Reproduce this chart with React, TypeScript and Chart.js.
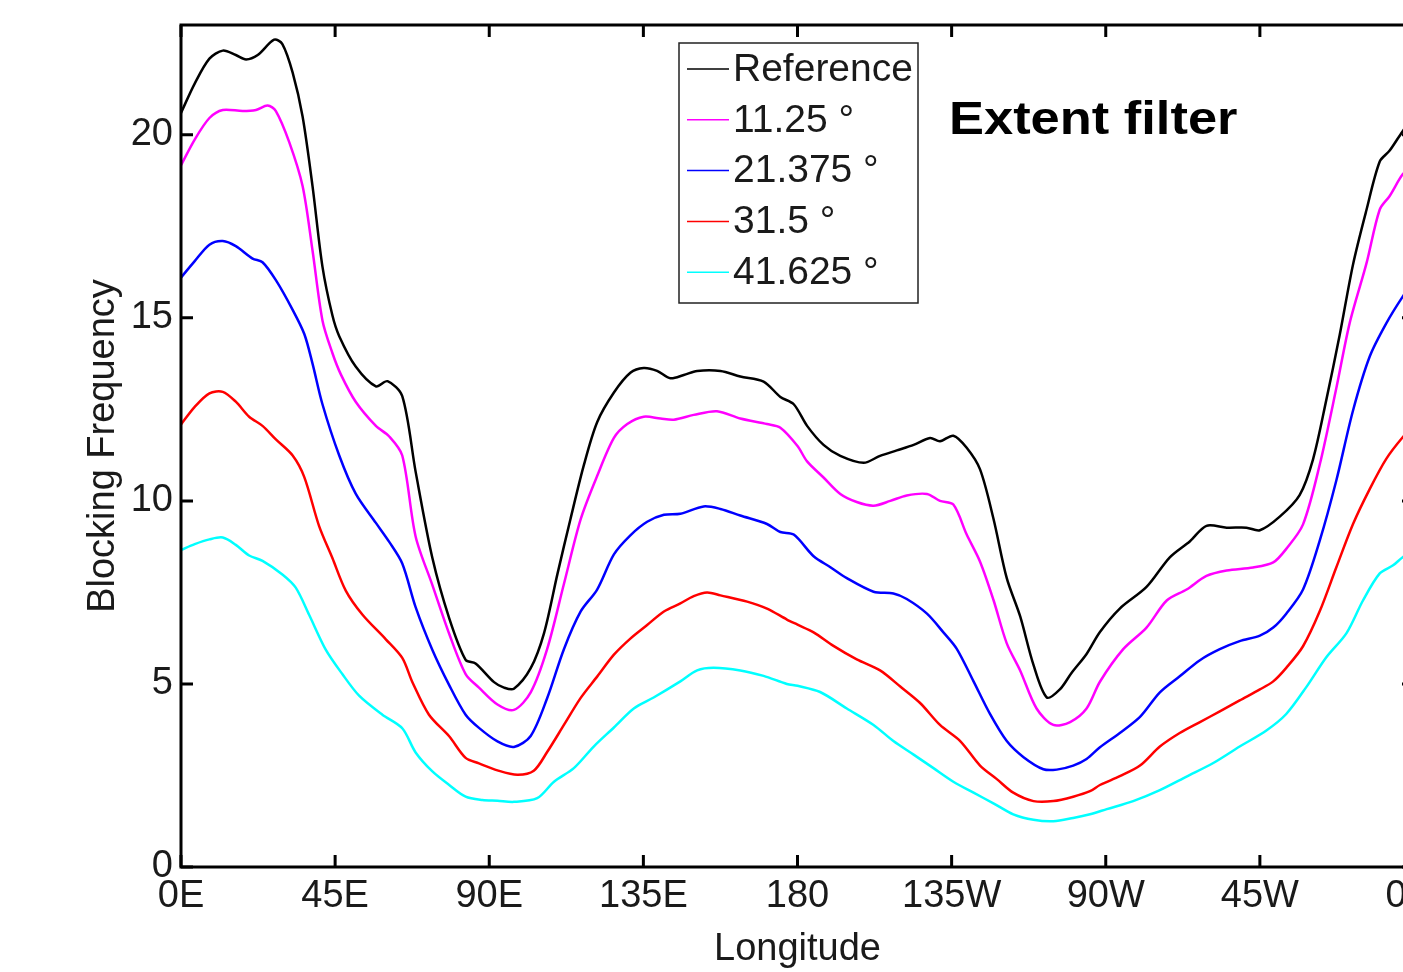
import React, { useEffect, useRef } from 'react';
import { Chart, registerables } from 'chart.js';

Chart.register(...registerables);

const FONT = '"Liberation Sans", Arial, Helvetica, sans-serif';

const xTickLabels = ['0E', '45E', '90E', '135E', '180', '135W', '90W', '45W', '0W'];
const yTickValues = [0, 5, 10, 15, 20];

const seriesNames = ['Reference', '11.25 °', '21.375 °', '31.5 °', '41.625 °'];
const seriesColors = ['#000000', '#ff00ff', '#0000ff', '#ff0000', '#00ffff'];

const refLon = [0, 4, 8.3, 12.2, 16, 19, 22.4, 27.2, 29.6, 32.6, 35.5, 38.4, 41.3, 44.2, 46.2, 51, 56.9, 60.3, 64.6, 68.5, 73.4, 78.3, 83.1, 86, 91.4, 94.3, 97.2, 102.1, 106, 109.9, 113.7, 117.6, 121.5, 126.4, 131.2, 135.1, 139, 142.9, 146.8, 150.7, 157.5, 163.3, 170.1, 175, 178.9, 182.8, 187.6, 192.5, 199.3, 204.1, 209, 213.9, 218.7, 221.6, 225.5, 229.4, 233.3, 237.2, 241.1, 245, 248.9, 252.8, 256.6, 260, 264.4, 268.3, 274.1, 281.9, 288.7, 294.6, 299.4, 305.3, 311.1, 315, 320.8, 326.6, 330.5, 334.4, 338.3, 342.2, 346.1, 350, 352.9, 356.7, 360];
const refVal = [20.6, 21.4, 22.08, 22.3, 22.18, 22.06, 22.18, 22.6, 22.48, 21.7, 20.5, 18.6, 16.4, 15.07, 14.5, 13.67, 13.13, 13.27, 12.86, 10.8, 8.44, 6.8, 5.66, 5.56, 5.05, 4.9, 4.87, 5.43, 6.39, 8.0, 9.5, 10.97, 12.15, 12.96, 13.5, 13.63, 13.55, 13.35, 13.44, 13.55, 13.55, 13.4, 13.26, 12.84, 12.64, 12.05, 11.53, 11.23, 11.04, 11.23, 11.38, 11.53, 11.72, 11.63, 11.78, 11.45, 10.86, 9.52, 7.89, 6.85, 5.52, 4.63, 4.85, 5.3, 5.82, 6.42, 7.06, 7.65, 8.46, 8.9, 9.32, 9.27, 9.27, 9.2, 9.57, 10.16, 11.13, 12.76, 14.53, 16.46, 17.94, 19.27, 19.57, 20.1, 20.5];

const magLon = [0, 4, 8.3, 12.2, 18, 21.9, 25.3, 27.7, 31.6, 35.5, 38.4, 41.3, 44.2, 46.7, 51, 56.9, 60.8, 64.6, 68.5, 73.4, 78.3, 83.1, 87, 92.4, 97.2, 102.1, 106.9, 111.8, 116.7, 121.5, 126.4, 130.3, 135.1, 140, 143.9, 149.7, 156.5, 163.3, 171.1, 175, 180, 182.8, 187.6, 192.5, 197.3, 202.2, 207.1, 211.9, 217.8, 221.6, 225.5, 229.4, 233.3, 237.2, 241.1, 245, 249.8, 254.7, 259.6, 264.4, 268.3, 275.1, 281.9, 287.8, 293.6, 299.4, 305.3, 313, 318.9, 322.7, 327.6, 332.5, 337.3, 341.2, 346.1, 350, 352.9, 356.7, 360];
const magVal = [19.17, 19.87, 20.46, 20.68, 20.65, 20.68, 20.8, 20.65, 19.8, 18.6, 16.84, 14.93, 14.04, 13.45, 12.71, 12.05, 11.76, 11.24, 9.03, 7.7, 6.37, 5.27, 4.9, 4.44, 4.29, 4.77, 5.95, 7.73, 9.5, 10.68, 11.72, 12.1, 12.3, 12.25, 12.22, 12.35, 12.45, 12.25, 12.1, 12.0, 11.5, 11.08, 10.64, 10.19, 9.97, 9.87, 10.0, 10.15, 10.19, 10.0, 9.9, 9.08, 8.34, 7.3, 6.11, 5.37, 4.33, 3.88, 3.96, 4.33, 5.06, 5.95, 6.54, 7.28, 7.58, 7.95, 8.1, 8.18, 8.32, 8.69, 9.36, 11.0, 13.07, 14.85, 16.48, 17.96, 18.33, 18.92, 19.2];

const blueLon = [0, 4, 8.3, 12.2, 16, 20.9, 23.8, 27.7, 32.6, 36, 38.4, 41.3, 46.2, 51, 56.9, 60.8, 64.6, 68.5, 73.4, 78.3, 83.1, 87, 92.4, 97.2, 102.1, 106.9, 111.8, 116.7, 121.5, 126.4, 131.2, 136.1, 141, 145.8, 152.6, 157.5, 163.3, 171.1, 175, 178.9, 184.7, 189.6, 194.4, 202.2, 208, 211.9, 217.8, 222.6, 226.5, 231.4, 236.2, 241.1, 246, 251.8, 255.7, 260.5, 264.4, 268.3, 274.1, 280, 285.8, 291.6, 297.5, 303.3, 309.1, 315, 318.9, 322.7, 327.6, 332.5, 337.3, 342.2, 347.1, 351.9, 356.7, 360];
const blueVal = [16.1, 16.55, 17.0, 17.1, 16.96, 16.62, 16.52, 16.03, 15.22, 14.56, 13.75, 12.64, 11.24, 10.2, 9.4, 8.88, 8.29, 7.1, 5.93, 4.97, 4.16, 3.8, 3.43, 3.28, 3.58, 4.61, 5.95, 6.98, 7.58, 8.54, 9.06, 9.43, 9.62, 9.65, 9.85, 9.78, 9.6, 9.37, 9.15, 9.08, 8.49, 8.19, 7.89, 7.52, 7.47, 7.32, 6.92, 6.41, 5.96, 5.07, 4.18, 3.44, 3.0, 2.67, 2.66, 2.77, 2.95, 3.27, 3.66, 4.1, 4.77, 5.21, 5.65, 5.95, 6.17, 6.32, 6.54, 6.92, 7.58, 8.92, 10.55, 12.47, 13.95, 14.85, 15.58, 16.0];

const redLon = [0, 4, 8.3, 12.2, 16, 19.9, 23.8, 27.7, 32.6, 36, 40.3, 44.2, 48.1, 53, 59.8, 64.6, 67.6, 72.4, 78.3, 83.1, 87, 92.4, 98.2, 103, 106.9, 111.8, 116.7, 121.5, 126.4, 131.2, 136.1, 141, 145.8, 149.7, 153.6, 157.5, 165.3, 171.1, 176.9, 180, 184.7, 190.5, 197.3, 204.1, 210, 215.8, 221.6, 227.5, 233.3, 238.2, 243, 248.9, 254.7, 260.5, 265.4, 268.3, 274.1, 280, 285.8, 291.6, 297.5, 303.3, 309.1, 315, 318.9, 322.7, 327.6, 332.5, 337.3, 342.2, 347.1, 351.9, 356.7, 360];
const redVal = [12.09, 12.57, 12.94, 12.98, 12.71, 12.3, 12.05, 11.68, 11.24, 10.65, 9.32, 8.44, 7.55, 6.89, 6.22, 5.71, 5.04, 4.16, 3.57, 2.98, 2.83, 2.64, 2.52, 2.63, 3.14, 3.88, 4.62, 5.2, 5.8, 6.24, 6.61, 6.98, 7.2, 7.4, 7.5, 7.42, 7.25, 7.06, 6.76, 6.62, 6.41, 6.04, 5.67, 5.37, 4.93, 4.48, 3.88, 3.44, 2.77, 2.4, 2.03, 1.8, 1.8, 1.92, 2.07, 2.24, 2.48, 2.77, 3.29, 3.66, 3.96, 4.25, 4.55, 4.85, 5.07, 5.44, 6.03, 6.99, 8.18, 9.37, 10.33, 11.15, 11.74, 12.05];

const cyanLon = [0, 4, 8.3, 12.2, 16, 19.9, 23.8, 29.6, 33.5, 37.4, 42.3, 47.1, 52, 58.8, 64.6, 68.5, 73.4, 78.3, 83.1, 88, 92.4, 97.2, 104, 108.9, 114.7, 120.5, 126.4, 132.2, 138, 145.8, 150.7, 155.5, 163.3, 170.1, 176.9, 180, 186.6, 194.4, 202.2, 208, 213.9, 219.7, 225.5, 231.4, 237.2, 243, 248.9, 254.7, 260.5, 265.4, 270.3, 278, 285.8, 293.6, 301.4, 309.1, 316.9, 322.7, 328.6, 334.4, 340.3, 345.1, 350, 353.9, 356.7, 360];
const cyanVal = [8.66, 8.82, 8.95, 9.0, 8.8, 8.51, 8.36, 7.99, 7.63, 6.89, 5.93, 5.27, 4.68, 4.16, 3.79, 3.13, 2.61, 2.24, 1.92, 1.83, 1.81, 1.78, 1.88, 2.33, 2.7, 3.29, 3.81, 4.33, 4.63, 5.07, 5.37, 5.44, 5.37, 5.22, 5.0, 4.95, 4.78, 4.33, 3.88, 3.44, 3.07, 2.7, 2.33, 2.03, 1.74, 1.44, 1.29, 1.25, 1.34, 1.44, 1.58, 1.8, 2.1, 2.47, 2.84, 3.29, 3.73, 4.18, 4.92, 5.73, 6.39, 7.28, 8.02, 8.24, 8.46, 8.62];

const seriesLon = [refLon, magLon, blueLon, redLon, cyanLon];
const seriesVal = [refVal, magVal, blueVal, redVal, cyanVal];

const framePlugin = {
  id: 'frameTicks',
  afterDatasetsDraw(chart: any) {
    const { ctx, chartArea, scales } = chart;
    const { left, right, top, bottom } = chartArea;
    const xs = scales.x;
    const ys = scales.y;
    ctx.save();
    ctx.strokeStyle = '#000';
    ctx.lineWidth = 3;
    ctx.strokeRect(left, top, right - left, bottom - top);
    ctx.beginPath();
    xs.ticks.forEach((t: any) => {
      const px = xs.getPixelForValue(t.value);
      ctx.moveTo(px, bottom);
      ctx.lineTo(px, bottom - 12);
      ctx.moveTo(px, top);
      ctx.lineTo(px, top + 12);
    });
    ys.ticks.forEach((t: any) => {
      const py = ys.getPixelForValue(t.value);
      ctx.moveTo(left, py);
      ctx.lineTo(left + 12, py);
      ctx.moveTo(right, py);
      ctx.lineTo(right - 12, py);
    });
    ctx.stroke();
    ctx.restore();
  },
};

const legendPlugin = {
  id: 'boxLegend',
  afterDraw(chart: any) {
    const { ctx } = chart;
    const ds = chart.data.datasets;
    ctx.save();
    ctx.fillStyle = '#ffffff';
    ctx.fillRect(679, 43, 239, 260);
    ctx.strokeStyle = '#222';
    ctx.lineWidth = 1.5;
    ctx.strokeRect(679, 43, 239, 260);
    ctx.font = `39px ${FONT}`;
    ctx.textBaseline = 'middle';
    ctx.textAlign = 'left';
    ds.forEach((d: any, i: number) => {
      const cy = 69 + i * 50.8;
      ctx.strokeStyle = d.borderColor;
      ctx.lineWidth = 1.5;
      ctx.beginPath();
      ctx.moveTo(687, cy);
      ctx.lineTo(729, cy);
      ctx.stroke();
      ctx.fillStyle = '#1a1a1a';
      ctx.fillText(d.label, 733, cy + 1);
    });
    ctx.restore();
  },
};

const annotationPlugin = {
  id: 'extentLabel',
  afterDraw(chart: any) {
    const { ctx } = chart;
    ctx.save();
    ctx.translate(949, 134);
    ctx.scale(1.14, 1);
    ctx.font = `bold 46px ${FONT}`;
    ctx.fillStyle = '#000';
    ctx.textBaseline = 'alphabetic';
    ctx.textAlign = 'left';
    ctx.fillText('Extent filter', 0, 0);
    ctx.restore();
  },
};

export default function App() {
  const canvasRef = useRef<HTMLCanvasElement | null>(null);

  useEffect(() => {
    if (!canvasRef.current) return;
    const datasets = seriesNames.map((name, i) => ({
      label: name,
      data: seriesLon[i].map((x, j) => ({ x, y: seriesVal[i][j] })),
      borderColor: seriesColors[i],
      backgroundColor: seriesColors[i],
      borderWidth: 2.5,
      pointRadius: 0,
      tension: 0.3,
      fill: false,
    }));
    const chart = new Chart(canvasRef.current, {
      type: 'line',
      data: { datasets },
      options: {
        animation: false,
        responsive: false,
        maintainAspectRatio: false,
        devicePixelRatio: 1,
        layout: { padding: { left: 0, top: 25, right: 36, bottom: 0 } },
        plugins: {
          legend: { display: false },
          tooltip: { enabled: false },
        },
        scales: {
          x: {
            type: 'linear',
            position: 'bottom',
            min: 0,
            max: 360,
            afterFit: (s: any) => {
              s.height = 105;
            },
            grid: { display: false, drawTicks: false },
            border: { display: false },
            ticks: {
              stepSize: 45,
              autoSkip: false,
              maxRotation: 0,
              includeBounds: false,
              padding: 7,
              color: '#1a1a1a',
              font: { family: FONT, size: 38 },
              callback: (v: any) => xTickLabels[Math.round(Number(v) / 45)] ?? '',
            },
            title: {
              display: true,
              text: 'Longitude',
              color: '#1a1a1a',
              font: { family: FONT, size: 38 },
              padding: { top: 0, bottom: 0 },
            },
          },
          y: {
            type: 'linear',
            position: 'left',
            min: 0,
            max: 23,
            afterFit: (s: any) => {
              s.width = 181;
              s.paddingTop = 0;
              s.paddingBottom = 0;
            },
            afterBuildTicks: (s: any) => {
              s.ticks = yTickValues.map((v) => ({ value: v }));
            },
            grid: { display: false, drawTicks: false },
            border: { display: false },
            ticks: {
              stepSize: 5,
              includeBounds: false,
              padding: 8,
              color: '#1a1a1a',
              font: { family: FONT, size: 38 },
            },
            title: {
              display: true,
              text: 'Blocking Frequency',
              color: '#1a1a1a',
              font: { family: FONT, size: 38 },
              padding: { top: 81, bottom: 0 },
            },
          },
        },
      },
      plugins: [framePlugin, legendPlugin, annotationPlugin],
    });
    return () => chart.destroy();
  }, []);

  return (
    <div
      style={{
        position: 'fixed',
        left: 0,
        top: 0,
        width: 1403,
        height: 972,
        overflow: 'hidden',
        background: '#ffffff',
      }}
    >
      <canvas ref={canvasRef} width={1450} height={972} style={{ display: 'block', width: 1450, height: 972 }} />
    </div>
  );
}
